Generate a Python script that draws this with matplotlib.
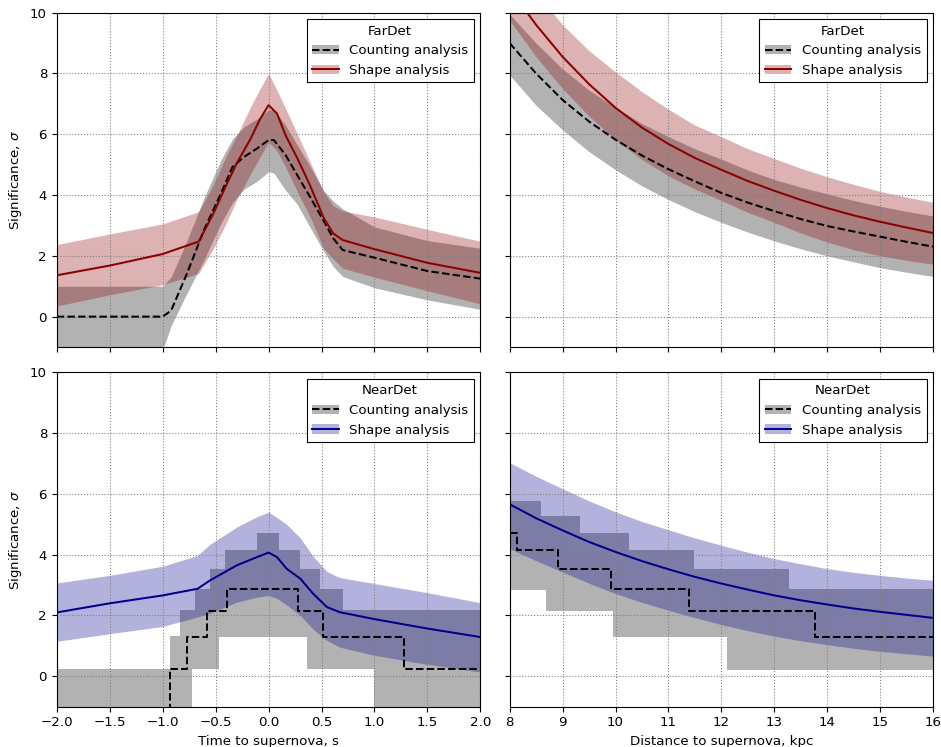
import numpy as np
import matplotlib
matplotlib.use("Agg")
import matplotlib.pyplot as plt
from matplotlib.patches import Patch
from matplotlib.lines import Line2D

plt.rcParams['font.size'] = 9.6

# ---- FarDet vs time ----
t_shape_far = [-2.0, -1.5, -1.0, -0.66, -0.52, -0.41, -0.3, -0.17, -0.08, 0.0, 0.08, 0.16, 0.28, 0.39, 0.52, 0.61, 0.7, 1.0, 1.5, 2.0]
shape_far_t = [1.36, 1.68, 2.06, 2.47, 3.4, 4.25, 5.05, 5.85, 6.5, 6.96, 6.68, 5.97, 5.15, 4.33, 3.25, 2.74, 2.52, 2.22, 1.77, 1.44]
shape_far_t_hi = [2.37, 2.72, 3.05, 3.45, 4.35, 5.2, 5.95, 6.9, 7.5, 8.0, 7.45, 6.85, 5.95, 5.1, 4.1, 3.65, 3.48, 3.28, 2.87, 2.48]
shape_far_t_lo = [0.35, 0.72, 1.05, 1.42, 2.25, 3.0, 3.85, 4.7, 5.25, 5.75, 5.45, 4.93, 4.05, 3.3, 2.25, 1.9, 1.59, 1.3, 0.85, 0.42]

t_count_far = [-2.0, -1.5, -1.0, -0.92, -0.77, -0.61, -0.45, -0.34, -0.23, -0.11, 0.0, 0.05, 0.16, 0.27, 0.39, 0.52, 0.61, 0.7, 1.0, 1.5, 2.0]
count_far_t = [0.0, 0.0, 0.0, 0.2, 1.42, 2.85, 4.05, 4.93, 5.26, 5.53, 5.81, 5.81, 5.32, 4.66, 3.95, 3.15, 2.58, 2.19, 1.94, 1.5, 1.25]
count_far_t_hi = [1.0, 1.0, 1.0, 1.3, 2.5, 3.9, 5.15, 5.85, 6.25, 6.5, 6.8, 6.8, 6.3, 5.65, 4.95, 4.15, 3.8, 3.55, 2.95, 2.5, 2.25]
count_far_t_lo = [-2.0, -2.0, -1.1, -0.3, 0.77, 1.86, 3.07, 3.75, 4.2, 4.45, 4.77, 4.72, 4.16, 3.7, 2.95, 2.15, 1.65, 1.32, 0.95, 0.55, 0.24]

# ---- FarDet vs distance ----
d_far = [8.0, 8.5, 9.0, 9.5, 10.0, 10.5, 11.0, 11.5, 12.0, 12.5, 13.0, 13.5, 14.0, 14.5, 15.0, 15.5, 16.0]
shape_far_d = [10.8, 9.6, 8.55, 7.65, 6.87, 6.22, 5.68, 5.22, 4.83, 4.46, 4.14, 3.84, 3.57, 3.33, 3.12, 2.93, 2.75]
shape_far_d_hi = [11.85, 10.65, 9.6, 8.75, 8.05, 7.4, 6.82, 6.3, 5.92, 5.52, 5.2, 4.88, 4.6, 4.35, 4.12, 3.93, 3.76]
shape_far_d_lo = [9.75, 8.55, 7.5, 6.6, 5.82, 5.17, 4.63, 4.2, 3.82, 3.43, 3.1, 2.75, 2.45, 2.2, 2.0, 1.85, 1.72]
count_far_d = [9.0, 8.0, 7.13, 6.42, 5.82, 5.3, 4.85, 4.45, 4.07, 3.75, 3.47, 3.21, 2.98, 2.8, 2.63, 2.46, 2.3]
count_far_d_hi = [9.95, 9.0, 8.15, 7.45, 6.88, 6.35, 5.92, 5.52, 5.18, 4.82, 4.51, 4.26, 4.04, 3.82, 3.63, 3.46, 3.31]
count_far_d_lo = [7.95, 6.95, 6.14, 5.43, 4.83, 4.3, 3.85, 3.45, 3.1, 2.78, 2.49, 2.23, 2.0, 1.8, 1.61, 1.46, 1.32]

# ---- NearDet vs time ----
t_shape_near = [-2.0, -1.5, -1.0, -0.67, -0.55, -0.3, -0.11, 0.0, 0.08, 0.17, 0.3, 0.42, 0.55, 0.67, 1.0, 1.5, 2.0]
shape_near_t = [2.10, 2.40, 2.66, 2.88, 3.16, 3.65, 3.92, 4.07, 3.92, 3.54, 3.21, 2.72, 2.28, 2.11, 1.88, 1.57, 1.29]
shape_near_t_hi = [3.07, 3.32, 3.62, 3.98, 4.35, 4.91, 5.25, 5.4, 5.22, 5.0, 4.55, 3.95, 3.45, 3.25, 3.05, 2.75, 2.42]
shape_near_t_lo = [1.15, 1.4, 1.64, 1.95, 2.08, 2.44, 2.6, 2.66, 2.56, 2.35, 2.0, 1.55, 1.18, 0.96, 0.69, 0.39, 0.14]

cnt_t_edges = [-2.0, -0.93, -0.77, -0.58, -0.39, 0.28, 0.51, 1.28, 2.0]
cnt_t_vals = [-2.0, 0.23, 1.29, 2.15, 2.86, 2.15, 1.29, 0.23]
cnt_t_hi_edges = [-2.0, -0.93, -0.835, -0.69, -0.55, -0.41, -0.11, 0.10, 0.30, 0.49, 0.70, 2.0]
cnt_t_hi_vals = [0.25, 1.31, 2.17, 2.88, 3.54, 4.14, 4.71, 4.14, 3.54, 2.88, 2.17]
cnt_t_lo_edges = [-2.0, -0.72, -0.47, 0.36, 1.0, 2.0]
cnt_t_lo_vals = [-2.0, 0.23, 1.29, 0.23, -2.0]

# ---- NearDet vs distance ----
d_near = [8.0, 8.5, 9.0, 9.5, 10.0, 10.5, 11.0, 11.5, 12.0, 12.5, 13.0, 13.5, 14.0, 14.5, 15.0, 15.5, 16.0]
shape_near_d = [5.66, 5.2, 4.80, 4.42, 4.09, 3.79, 3.52, 3.27, 3.05, 2.85, 2.66, 2.5, 2.36, 2.23, 2.12, 2.02, 1.92]
shape_near_d_hi = [7.03, 6.58, 6.17, 5.77, 5.41, 5.09, 4.82, 4.55, 4.31, 4.08, 3.87, 3.7, 3.54, 3.42, 3.32, 3.23, 3.16]
shape_near_d_lo = [4.2, 3.8, 3.43, 3.06, 2.72, 2.43, 2.17, 1.93, 1.7, 1.5, 1.32, 1.17, 1.04, 0.92, 0.82, 0.74, 0.66]

cnt_d_edges = [8.0, 8.14, 8.91, 9.92, 11.39, 13.77, 16.0]
cnt_d_vals = [4.71, 4.14, 3.54, 2.87, 2.15, 1.29]
cnt_d_hi_edges = [8.0, 8.60, 9.33, 10.25, 11.49, 13.28, 16.0]
cnt_d_hi_vals = [5.76, 5.26, 4.71, 4.14, 3.54, 2.88]
cnt_d_lo_edges = [8.0, 8.69, 9.95, 12.11, 16.0]
cnt_d_lo_vals = [2.85, 2.14, 1.29, 0.22]


def steps(edges, vals):
    # repeat last value so steps-post reaches the right edge
    return np.array(edges), np.append(vals, vals[-1])


def step_fill(ax, hi_e, hi_v, lo_e, lo_v, **kw):
    grid = np.unique(np.concatenate([hi_e, lo_e]))
    hi = np.array(hi_v)[np.clip(np.searchsorted(hi_e, grid, side='right') - 1, 0, len(hi_v) - 1)]
    lo = np.array(lo_v)[np.clip(np.searchsorted(lo_e, grid, side='right') - 1, 0, len(lo_v) - 1)]
    ax.fill_between(grid, lo, hi, step='post', linewidth=0, **kw)


fig, axes = plt.subplots(2, 2, figsize=(9.41, 7.47), dpi=100, sharex='col', sharey=True)
plt.subplots_adjust(left=0.0603, right=0.9918, bottom=0.054, top=0.983, wspace=0.069, hspace=0.0757)

red = 'darkred'
blue = 'darkblue'
lw = 1.45

# Top left
ax = axes[0, 0]
ax.fill_between(t_count_far, count_far_t_lo, count_far_t_hi, color='k', alpha=0.3, linewidth=0)
ax.fill_between(t_shape_far, shape_far_t_lo, shape_far_t_hi, color=red, alpha=0.3, linewidth=0)
ax.plot(t_count_far, count_far_t, 'k--', lw=lw)
ax.plot(t_shape_far, shape_far_t, color=red, lw=lw)

# Top right
ax = axes[0, 1]
ax.fill_between(d_far, count_far_d_lo, count_far_d_hi, color='k', alpha=0.3, linewidth=0)
ax.fill_between(d_far, shape_far_d_lo, shape_far_d_hi, color=red, alpha=0.3, linewidth=0)
ax.plot(d_far, count_far_d, 'k--', lw=lw)
ax.plot(d_far, shape_far_d, color=red, lw=lw)

# Bottom left
ax = axes[1, 0]
step_fill(ax, cnt_t_hi_edges, cnt_t_hi_vals, cnt_t_lo_edges, cnt_t_lo_vals, color='k', alpha=0.3)
ax.fill_between(t_shape_near, shape_near_t_lo, shape_near_t_hi, color=blue, alpha=0.3, linewidth=0)
xs, ys = steps(cnt_t_edges, cnt_t_vals)
ax.plot(xs, ys, 'k--', lw=lw, drawstyle='steps-post')
ax.plot(t_shape_near, shape_near_t, color=blue, lw=lw)

# Bottom right
ax = axes[1, 1]
step_fill(ax, cnt_d_hi_edges, cnt_d_hi_vals, cnt_d_lo_edges, cnt_d_lo_vals, color='k', alpha=0.3)
ax.fill_between(d_near, shape_near_d_lo, shape_near_d_hi, color=blue, alpha=0.3, linewidth=0)
xs, ys = steps(cnt_d_edges, cnt_d_vals)
ax.plot(xs, ys, 'k--', lw=lw, drawstyle='steps-post')
ax.plot(d_near, shape_near_d, color=blue, lw=lw)

for i, (det, col) in enumerate([('FarDet', red), ('NearDet', blue)]):
    for j in range(2):
        ax = axes[i, j]
        handles = [(Patch(facecolor='k', alpha=0.3, linewidth=0), Line2D([], [], color='k', ls='--', lw=lw)),
                   (Patch(facecolor=col, alpha=0.3, linewidth=0), Line2D([], [], color=col, lw=lw))]
        leg = ax.legend(handles, ['Counting analysis', 'Shape analysis'], title=det,
                        loc='upper right', fancybox=False, framealpha=1, edgecolor='k')
        leg.get_frame().set_linewidth(0.8)
        ax.grid(True, color='gray', linestyle=':', linewidth=0.8)

axes[0, 0].set_xlim(-2, 2)
axes[0, 1].set_xlim(8, 16)
axes[0, 0].set_ylim(-1, 10)
axes[0, 0].set_ylabel(r'Significance, $\sigma$')
axes[1, 0].set_ylabel(r'Significance, $\sigma$')
axes[1, 0].set_xlabel('Time to supernova, s')
axes[1, 1].set_xlabel('Distance to supernova, kpc')

plt.savefig('out.png', dpi=100)
